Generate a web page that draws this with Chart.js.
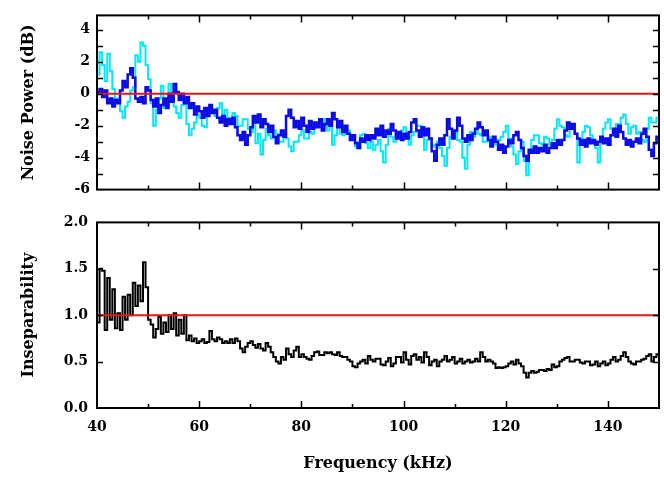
<!DOCTYPE html>
<html>
<head>
<meta charset="utf-8">
<script src="https://cdn.jsdelivr.net/npm/chart.js@4.4.1/dist/chart.umd.min.js"></script>
<style>
    body { margin: 0; background: #fff; }
    #wrap { position: relative; width: 664px; height: 478px; }
    #topChart { position: absolute; left: 0; top: 0; }
    #bottomChart { position: absolute; left: 0; top: 205px; }
</style>
</head>
<body>
<div id="wrap">
    <canvas id="topChart" width="664" height="205"></canvas>
    <canvas id="bottomChart" width="664" height="273"></canvas>
</div>
<script>
// frequency axis (kHz), 0.5 kHz bins
const freq = [
    40, 40.5, 41, 41.5, 42, 42.5, 43, 43.5, 44, 44.5,
    45, 45.5, 46, 46.5, 47, 47.5, 48, 48.5, 49, 49.5,
    50, 50.5, 51, 51.5, 52, 52.5, 53, 53.5, 54, 54.5,
    55, 55.5, 56, 56.5, 57, 57.5, 58, 58.5, 59, 59.5,
    60, 60.5, 61, 61.5, 62, 62.5, 63, 63.5, 64, 64.5,
    65, 65.5, 66, 66.5, 67, 67.5, 68, 68.5, 69, 69.5,
    70, 70.5, 71, 71.5, 72, 72.5, 73, 73.5, 74, 74.5,
    75, 75.5, 76, 76.5, 77, 77.5, 78, 78.5, 79, 79.5,
    80, 80.5, 81, 81.5, 82, 82.5, 83, 83.5, 84, 84.5,
    85, 85.5, 86, 86.5, 87, 87.5, 88, 88.5, 89, 89.5,
    90, 90.5, 91, 91.5, 92, 92.5, 93, 93.5, 94, 94.5,
    95, 95.5, 96, 96.5, 97, 97.5, 98, 98.5, 99, 99.5,
    100, 100.5, 101, 101.5, 102, 102.5, 103, 103.5, 104, 104.5,
    105, 105.5, 106, 106.5, 107, 107.5, 108, 108.5, 109, 109.5,
    110, 110.5, 111, 111.5, 112, 112.5, 113, 113.5, 114, 114.5,
    115, 115.5, 116, 116.5, 117, 117.5, 118, 118.5, 119, 119.5,
    120, 120.5, 121, 121.5, 122, 122.5, 123, 123.5, 124, 124.5,
    125, 125.5, 126, 126.5, 127, 127.5, 128, 128.5, 129, 129.5,
    130, 130.5, 131, 131.5, 132, 132.5, 133, 133.5, 134, 134.5,
    135, 135.5, 136, 136.5, 137, 137.5, 138, 138.5, 139, 139.5,
    140, 140.5, 141, 141.5, 142, 142.5, 143, 143.5, 144, 144.5,
    145, 145.5, 146, 146.5, 147, 147.5, 148, 148.5, 149, 149.5,
    150
];

// noise power (dB), dark blue trace
const noiseBlue = [
    0.1, 0.3, -0.2, 0.2, -0.6, -0.3, -0.8, -0.4, -0.6, 0.2,
    0.8, 0.4, 1.2, 1.6, 1.0, -0.3, -0.5, -0.2, -0.6, 0.4,
    0.2, -0.4, -0.8, -0.3, -1.2, -0.7, -0.3, -0.9, 0.0, -0.5,
    0.6, 0.1, -0.4, 0.0, -0.6, -0.2, -0.9, -0.6, -1.3, -0.8,
    -1.1, -1.5, -0.9, -1.4, -0.7, -1.2, -1.0, -1.5, -1.8, -1.4,
    -2.0, -1.6, -1.9, -1.5, -2.1, -2.6, -2.9, -2.4, -3.2, -2.6,
    -2.1, -1.4, -1.8, -1.3, -2.1, -1.6, -1.9, -2.4, -2.0, -2.7,
    -3.1, -2.6, -2.3, -2.7, -1.4, -1.0, -1.5, -2.1, -1.7, -2.2,
    -1.5, -2.0, -2.4, -1.7, -2.2, -1.8, -2.1, -1.6, -2.3, -1.9,
    -1.6, -2.0, -1.2, -1.6, -2.1, -1.7, -2.4, -2.0, -2.5, -2.9,
    -2.6, -3.1, -3.4, -2.8, -3.0, -2.6, -2.9, -2.6, -2.8, -2.2,
    -2.6, -2.0, -2.7, -2.3, -2.5, -1.9, -2.3, -2.8, -2.4, -2.9,
    -2.5, -2.8, -2.4, -1.8, -1.6, -2.3, -2.7, -2.1, -2.6, -2.2,
    -2.8, -3.6, -4.2, -3.2, -2.8, -3.2, -2.6, -1.6, -2.2, -2.8,
    -2.3, -1.5, -2.0, -2.8, -3.0, -2.6, -2.9, -2.5, -2.2, -1.8,
    -2.1, -2.6, -2.3, -2.9, -3.3, -2.7, -3.0, -3.5, -3.2, -3.7,
    -3.3, -2.9, -3.1, -2.6, -2.4, -2.9, -3.4, -3.9, -4.2, -3.5,
    -3.7, -3.3, -3.7, -3.4, -3.6, -3.2, -3.7, -3.4, -3.1, -3.4,
    -2.9, -3.2, -2.9, -2.3, -1.8, -2.2, -1.9, -2.5, -2.8, -3.2,
    -2.9, -3.3, -2.8, -3.1, -2.9, -3.2, -3.0, -2.7, -3.1, -2.8,
    -3.2, -2.6, -2.2, -2.7, -2.0, -2.4, -2.8, -3.2, -2.9, -3.3,
    -3.0, -2.8, -3.1, -2.5, -2.2, -2.7, -3.5, -3.9, -3.1, -2.7,
    -2.9
];

// noise power (dB), cyan trace
const noiseCyan = [
    1.2, 2.6, 1.8, 0.8, 2.5, 1.4, 0.3, -0.3, -0.6, -1.1,
    -1.5, -0.8, -0.5, 0.2, 0.4, 2.4, 2.0, 3.2, 3.0, 1.8,
    0.9, -0.6, -2.0, -1.0, -0.3, 0.5, -0.9, -0.4, 0.6, -0.2,
    -0.8, -1.2, -1.5, -0.7, -0.6, -1.9, -2.6, -2.2, -1.8, -1.3,
    -1.5, -2.0, -2.1, -1.4, -0.8, -1.2, -1.4, -0.9, -0.6, -1.3,
    -1.0, -1.5, -1.8, -1.2, -1.4, -2.0, -2.0, -1.6, -1.6, -2.2,
    -2.4, -1.8, -3.1, -2.5, -3.8, -2.9, -2.2, -2.6, -2.8, -2.3,
    -2.5, -3.0, -3.0, -2.6, -2.8, -3.3, -3.6, -3.0, -3.0, -2.6,
    -2.3, -2.8, -2.8, -2.4, -2.5, -2.1, -2.0, -1.7, -1.6, -2.0,
    -2.3, -2.0, -3.2, -2.6, -2.1, -2.5, -2.6, -2.2, -2.3, -2.8,
    -2.9, -3.3, -3.0, -2.6, -2.5, -3.1, -3.4, -3.0, -3.5, -3.2,
    -2.9, -3.6, -4.3, -3.2, -2.2, -2.7, -3.0, -2.5, -2.5, -2.3,
    -2.1, -2.6, -3.2, -2.6, -2.4, -2.0, -2.0, -2.7, -3.5, -2.9,
    -2.8, -3.3, -3.2, -3.0, -3.4, -3.9, -4.5, -3.4, -2.7, -2.4,
    -2.4, -2.9, -3.0, -4.0, -4.7, -3.2, -2.4, -2.7, -2.2, -2.5,
    -2.6, -3.0, -3.0, -2.7, -2.8, -3.1, -3.2, -2.9, -2.7, -2.4,
    -2.0, -2.8, -3.3, -3.8, -4.4, -3.6, -3.0, -4.2, -5.1, -3.6,
    -2.9, -2.6, -2.6, -3.1, -3.2, -2.7, -2.8, -3.2, -2.9, -2.2,
    -1.6, -2.0, -2.1, -2.6, -2.7, -2.2, -1.9, -2.5, -4.3, -3.1,
    -2.4, -2.0, -2.1, -2.6, -2.9, -3.4, -4.3, -3.0, -2.2, -1.8,
    -1.6, -2.2, -2.4, -1.9, -1.9, -1.5, -1.3, -1.9, -2.5, -2.1,
    -2.0, -2.5, -2.4, -2.9, -3.0, -2.2, -1.5, -1.8, -1.8, -1.5,
    -2.0
];

// inseparability
const insep = [
    0.92, 1.5, 1.48, 0.84, 1.4, 0.95, 1.28, 0.86, 1.02, 0.84,
    1.2, 0.95, 1.22, 1.0, 1.35, 1.1, 1.32, 1.15, 1.57, 1.3,
    0.95, 0.9, 0.76, 0.85, 0.98, 0.8, 0.92, 0.82, 1.0, 0.85,
    1.02, 0.78, 0.95, 0.8, 1.0, 0.73, 0.78, 0.72, 0.75, 0.7,
    0.72, 0.74, 0.7, 0.71, 0.83, 0.74, 0.72, 0.76, 0.74, 0.7,
    0.72, 0.7, 0.74, 0.7, 0.75, 0.72, 0.64, 0.6, 0.66, 0.7,
    0.72, 0.68, 0.65, 0.69, 0.64, 0.62, 0.7, 0.66, 0.6, 0.55,
    0.5, 0.48, 0.55, 0.52, 0.64, 0.58, 0.55, 0.62, 0.66, 0.55,
    0.58, 0.55, 0.53, 0.52, 0.56, 0.6, 0.61, 0.57, 0.57, 0.6,
    0.59, 0.6, 0.58, 0.57, 0.6, 0.56, 0.55, 0.55, 0.52, 0.5,
    0.45, 0.44, 0.48, 0.5, 0.52, 0.48, 0.56, 0.52, 0.5, 0.53,
    0.53, 0.47, 0.46, 0.5, 0.54, 0.45, 0.48, 0.55, 0.55, 0.49,
    0.6, 0.52, 0.47, 0.56, 0.58, 0.52, 0.55, 0.49, 0.6, 0.55,
    0.46, 0.5, 0.52, 0.45, 0.5, 0.52, 0.56, 0.5, 0.52, 0.55,
    0.48, 0.5, 0.53, 0.48, 0.5, 0.52, 0.49, 0.5, 0.53, 0.5,
    0.6, 0.55, 0.5, 0.52, 0.5, 0.48, 0.43, 0.44, 0.43, 0.44,
    0.45, 0.48, 0.5, 0.47, 0.52, 0.48, 0.45, 0.38, 0.33, 0.38,
    0.4, 0.38, 0.39, 0.41, 0.41, 0.4, 0.42, 0.41, 0.47, 0.44,
    0.45, 0.5, 0.52, 0.54, 0.55, 0.5, 0.5, 0.52, 0.52, 0.49,
    0.48, 0.5, 0.5, 0.46, 0.47, 0.5, 0.45, 0.48, 0.5, 0.46,
    0.48, 0.52, 0.55, 0.5, 0.52, 0.56, 0.6, 0.55, 0.5, 0.48,
    0.47, 0.5, 0.5, 0.52, 0.53, 0.56, 0.58, 0.5, 0.55, 0.58,
    0.52
];

// reference levels (red lines)
const noiseRef = 0;
const insepRef = 1.0;

// ticks
const xLabels = [40, 60, 80, 100, 120, 140];
const xTickMarks = [50, 60, 70, 80, 90, 100, 110, 120, 130, 140];
const noiseLabels = [-6, -4, -2, 0, 2, 4];
const noiseTickMarks = [-5, -4, -3, -2, -1, 0, 1, 2, 3, 4];
const insepLabels = [0, 0.5, 1.0, 1.5, 2.0];
const insepTickMarks = [0.5, 1.0, 1.5];

const fontFamily = "'DejaVu Serif', 'Liberation Serif', serif";
const tickFont = { family: fontFamily, size: 14, weight: 'bold' };
const titleFont = { family: fontFamily, size: 16, weight: 'bold' };

function pts(ys) {
    return ys.map((v, i) => ({ x: freq[i], y: v }));
}

function flat(level) {
    return [{ x: freq[0], y: level }, { x: freq[freq.length - 1], y: level }];
}

// box frame with inward ticks on all four sides
const frameTicks = {
    id: 'frameTicks',
    afterDatasetsDraw(chart, args, opts) {
        const ctx = chart.ctx;
        const a = chart.chartArea;
        const xs = chart.scales.x;
        const ys = chart.scales.y;
        ctx.save();
        ctx.strokeStyle = '#000';
        ctx.lineWidth = 1.5;
        ctx.beginPath();
        opts.xMarks.forEach(v => {
            let px = Math.round(xs.getPixelForValue(v)) + 0.5;
            let len = v % 20 === 0 ? 7 : 4;
            ctx.moveTo(px, a.bottom);
            ctx.lineTo(px, a.bottom - len);
            ctx.moveTo(px, a.top);
            ctx.lineTo(px, a.top + len);
        });
        opts.yMarks.forEach(v => {
            let py = Math.round(ys.getPixelForValue(v)) + 0.5;
            ctx.moveTo(a.left, py);
            ctx.lineTo(a.left + 6, py);
            ctx.moveTo(a.right, py);
            ctx.lineTo(a.right - 6, py);
        });
        ctx.stroke();
        ctx.lineWidth = 2;
        ctx.strokeRect(a.left, a.top, a.right - a.left, a.bottom - a.top);
        ctx.restore();
    }
};

function lineSet(data, color, width) {
    return {
        data: data,
        borderColor: color,
        borderWidth: width,
        pointRadius: 0,
        stepped: true,
        fill: false
    };
}

/* Top panel: noise power */

new Chart(document.getElementById('topChart'), {
    type: 'line',
    data: {
        datasets: [
            lineSet(flat(noiseRef), 'rgb(235, 20, 20)', 2),
            lineSet(pts(noiseBlue), 'rgb(10, 10, 230)', 2.5),
            lineSet(pts(noiseCyan), 'rgb(0, 232, 245)', 2)
        ]
    },
    options: {
        responsive: false,
        animation: false,
        layout: { padding: { top: 6, right: 5, bottom: 10, left: 0 } },
        plugins: {
            legend: { display: false },
            tooltip: { enabled: false },
            frameTicks: { xMarks: xTickMarks, yMarks: noiseTickMarks }
        },
        scales: {
            x: {
                type: 'linear',
                min: 40,
                max: 150,
                display: false
            },
            y: {
                min: -6,
                max: 4.9,
                afterBuildTicks: s => { s.ticks = noiseLabels.map(v => ({ value: v })); },
                afterFit: s => { s.width = 97; },
                grid: { display: false, drawTicks: false },
                border: { display: false },
                ticks: {
                    color: '#000',
                    font: tickFont,
                    padding: 7,
                    callback: v => String(v)
                },
                title: {
                    display: true,
                    text: 'Noise Power (dB)',
                    color: '#000',
                    font: titleFont,
                    padding: { top: 19, bottom: 0 }
                }
            }
        }
    },
    plugins: [frameTicks]
});

/* Bottom panel: inseparability */

new Chart(document.getElementById('bottomChart'), {
    type: 'line',
    data: {
        datasets: [
            lineSet(flat(insepRef), 'rgb(235, 20, 20)', 2),
            lineSet(pts(insep), '#000', 2)
        ]
    },
    options: {
        responsive: false,
        animation: false,
        layout: { padding: { top: 17, right: 5, bottom: 0, left: 0 } },
        plugins: {
            legend: { display: false },
            tooltip: { enabled: false },
            frameTicks: { xMarks: xTickMarks, yMarks: insepTickMarks }
        },
        scales: {
            x: {
                type: 'linear',
                min: 40,
                max: 150,
                afterBuildTicks: s => { s.ticks = xLabels.map(v => ({ value: v })); },
                afterFit: s => { s.height = 70; },
                grid: { display: false, drawTicks: false },
                border: { display: false },
                ticks: {
                    color: '#000',
                    font: tickFont,
                    padding: 11,
                    maxRotation: 0,
                    autoSkip: false
                },
                title: {
                    display: true,
                    text: 'Frequency (kHz)',
                    color: '#000',
                    font: titleFont,
                    padding: { top: 0, bottom: 5 }
                }
            },
            y: {
                min: 0,
                max: 2,
                afterBuildTicks: s => { s.ticks = insepLabels.map(v => ({ value: v })); },
                afterFit: s => { s.width = 97; },
                grid: { display: false, drawTicks: false },
                border: { display: false },
                ticks: {
                    color: '#000',
                    font: tickFont,
                    padding: 9,
                    callback: v => v.toFixed(1)
                },
                title: {
                    display: true,
                    text: 'Inseparability',
                    color: '#000',
                    font: titleFont,
                    padding: { top: 19, bottom: 0 }
                }
            }
        }
    },
    plugins: [frameTicks]
});
</script>
</body>
</html>
